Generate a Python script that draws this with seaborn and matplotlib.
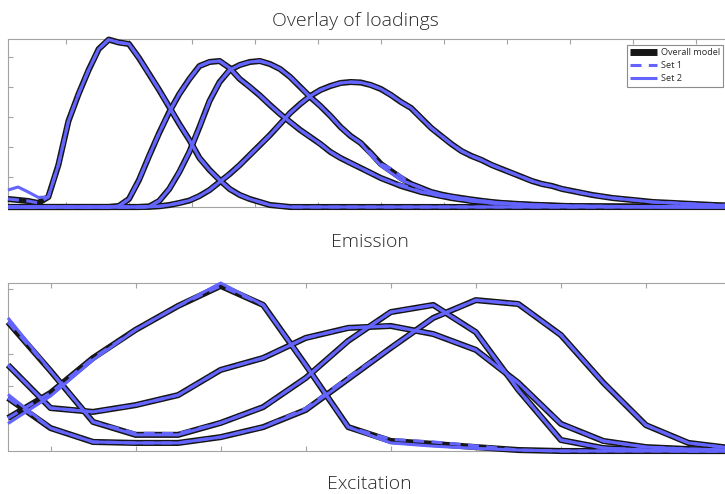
import matplotlib
matplotlib.use("Agg")
import matplotlib.pyplot as plt
from matplotlib.lines import Line2D
import seaborn as sns

# ---------------------------------------------------------------------------
# Emission loadings (4 components), sampled every 4 nm
# ---------------------------------------------------------------------------
em_nm = list(range(252, 541, 4))

em_comp1 = [0.0133, 0.0117, 0.0100, 0.0067, 0.0167, 0.0700, 0.1433, 0.1883, 0.2283, 0.2633,
            0.2790, 0.2742, 0.2717, 0.2483, 0.2217, 0.1950, 0.1667, 0.1383, 0.1117, 0.0817,
            0.0617, 0.0450, 0.0300, 0.0200, 0.0133, 0.0083, 0.0033, 0.0017] + [0.0] * 45

em_comp2 = [0.0] * 11 + [
    0.0017, 0.0133, 0.0450, 0.0850, 0.1233, 0.1583, 0.1883, 0.2133, 0.2350, 0.2417,
    0.2433, 0.2317, 0.2133, 0.2000, 0.1858, 0.1700, 0.1550, 0.1417, 0.1283, 0.1167,
    0.1050, 0.0917, 0.0817, 0.0733, 0.0650, 0.0567, 0.0483, 0.0417, 0.0350, 0.0300,
    0.0250, 0.0217, 0.0183, 0.0150, 0.0125, 0.0100, 0.0083, 0.0067, 0.0058, 0.0050,
    0.0042, 0.0033, 0.0025, 0.0020, 0.0017,
    0.0013, 0.0012, 0.0010, 0.0009, 0.0008, 0.0007, 0.0006, 0.0005, 0.0005, 0.0004,
    0.0004, 0.0003, 0.0003, 0.0002, 0.0002, 0.0002, 0.0001]

em_comp3 = [0.0] * 14 + [
    0.0008, 0.0100, 0.0300, 0.0583, 0.0917, 0.1333, 0.1767, 0.2083, 0.2283, 0.2367,
    0.2417, 0.2433, 0.2383, 0.2300, 0.2167, 0.2000, 0.1833, 0.1683, 0.1517, 0.1333,
    0.1183, 0.1067, 0.0900, 0.0717, 0.0600, 0.0483, 0.0383, 0.0317, 0.0250, 0.0208,
    0.0175, 0.0150, 0.0125, 0.0103, 0.0083, 0.0067, 0.0057, 0.0047, 0.0038, 0.0032,
    0.0025, 0.0018,
    0.0015, 0.0013, 0.0011, 0.0010, 0.0009, 0.0008, 0.0007, 0.0006, 0.0005, 0.0005,
    0.0004, 0.0004, 0.0003, 0.0003, 0.0002, 0.0002, 0.0002]

em_comp4 = [0.0] * 14 + [
    0.0003, 0.0012, 0.0033, 0.0067, 0.0108, 0.0183, 0.0283, 0.0417, 0.0550, 0.0700,
    0.0867, 0.1033, 0.1200, 0.1383, 0.1567, 0.1717, 0.1850, 0.1950, 0.2017, 0.2067,
    0.2083, 0.2075, 0.2033, 0.1967, 0.1867, 0.1750, 0.1650, 0.1483, 0.1317, 0.1183,
    0.1050, 0.0933, 0.0850, 0.0783, 0.0700, 0.0633, 0.0567, 0.0500, 0.0433, 0.0383,
    0.0350, 0.0300, 0.0267, 0.0233, 0.0200, 0.0175, 0.0150, 0.0133, 0.0117, 0.0100,
    0.0083, 0.0075, 0.0067, 0.0058, 0.0050, 0.0042, 0.0033, 0.0028, 0.0025]

# Split-half models: points where each half deviates from the overall model
em_set1_changes = {1: {39: 0.0370, 40: 0.0320}, 2: {38: 0.0640, 39: 0.0510}}
em_set2_changes = {0: {0: 0.0283, 1: 0.0333, 2: 0.0250, 3: 0.0160},
                   2: {36: 0.0870, 37: 0.0690, 38: 0.0570, 39: 0.0450}}

# ---------------------------------------------------------------------------
# Excitation loadings (4 components), sampled every 5 nm
# ---------------------------------------------------------------------------
ex_nm = list(range(240, 326, 5))

ex_comp1 = [0.102, 0.180, 0.288, 0.375, 0.449, 0.511, 0.452, 0.266, 0.074, 0.031,
            0.022, 0.012, 0.003, 0.0, 0.0, 0.0, 0.0, 0.0]
ex_comp2 = [0.399, 0.248, 0.090, 0.050, 0.050, 0.087, 0.136, 0.226, 0.341, 0.430,
            0.452, 0.368, 0.189, 0.034, 0.009, 0.003, 0.0, 0.0]
ex_comp3 = [0.266, 0.133, 0.121, 0.142, 0.173, 0.251, 0.288, 0.350, 0.381, 0.387,
            0.362, 0.313, 0.211, 0.084, 0.031, 0.012, 0.006, 0.003]
ex_comp4 = [0.164, 0.071, 0.028, 0.025, 0.025, 0.043, 0.074, 0.127, 0.223, 0.319,
            0.412, 0.467, 0.455, 0.359, 0.211, 0.080, 0.025, 0.009]

ex_set1_changes = {0: {9: 0.036, 10: 0.028, 11: 0.016}, 1: {3: 0.055, 4: 0.054},
                   3: {7: 0.132, 8: 0.228}}
ex_set2_changes = {0: {0: 0.085, 1: 0.170, 2: 0.282, 5: 0.520, 9: 0.025, 10: 0.015, 11: 0.008},
                   1: {0: 0.412}, 3: {0: 0.175}}

legend_labels = ["Overall model", "Set 1", "Set 2"]

BLACK = "#161616"
BLUE = "#6464FF"
GRID_GRAY = "#a3a3a3"
TEXT_COLOR = "#2a2a2a"


def with_changes(values, changes):
    out = list(values)
    for idx, v in changes.items():
        out[idx] = v
    return out


sns.set_theme(style="white", rc={"lines.dashed_pattern": (3.6, 2.4),
                                 "lines.solid_joinstyle": "round",
                                 "lines.dash_joinstyle": "round",
                                 "lines.solid_capstyle": "butt",
                                 "lines.dash_capstyle": "butt"})
plt.rcParams["font.family"] = ["Open Sans", "DejaVu Sans"]

fig = plt.figure(figsize=(7.25, 4.94), dpi=100)
W, H = 725.0, 494.0
ax_em = fig.add_axes([8 / W, (H - 207) / H, 723 / W, 168 / H])
ax_ex = fig.add_axes([8 / W, (H - 451) / H, 723 / W, 168 / H])


def draw_panel(ax, x, comps, set1_changes, set2_changes):
    # overall model underneath, then the two split-half models
    for c in comps:
        sns.lineplot(x=x, y=c, ax=ax, color=BLACK, linewidth=4.4,
                     clip_on=False, legend=False, zorder=2)
    for i, c in enumerate(comps):
        sns.lineplot(x=x, y=with_changes(c, set1_changes.get(i, {})), ax=ax,
                     color=BLUE, linewidth=2.2, linestyle="--",
                     clip_on=False, legend=False, zorder=3)
    for i, c in enumerate(comps):
        sns.lineplot(x=x, y=with_changes(c, set2_changes.get(i, {})), ax=ax,
                     color=BLUE, linewidth=2.2, clip_on=False,
                     legend=False, zorder=4)


draw_panel(ax_em, em_nm, [em_comp1, em_comp2, em_comp3, em_comp4],
           em_set1_changes, em_set2_changes)
draw_panel(ax_ex, ex_nm, [ex_comp1, ex_comp2, ex_comp3, ex_comp4],
           ex_set1_changes, ex_set2_changes)

ax_em.set_xlim(252, 539)
ax_em.set_ylim(0, 0.28)
ax_em.set_xticks(list(range(275, 540, 25)))
ax_em.set_yticks([0.05, 0.10, 0.15, 0.20, 0.25])

ax_ex.set_xlim(240, 325)
ax_ex.set_ylim(0, 0.52)
ax_ex.set_xticks(list(range(245, 326, 10)))
ax_ex.set_yticks([0.1, 0.2, 0.3, 0.4, 0.5])

for ax in (ax_em, ax_ex):
    ax.set_xlabel("")
    ax.set_ylabel("")
    ax.tick_params(direction="in", length=3.6, width=0.8, color=GRID_GRAY,
                   top=True, right=True, bottom=True, left=True,
                   labelbottom=False, labelleft=False)
    for sp in ax.spines.values():
        sp.set_color(GRID_GRAY)
        sp.set_linewidth(0.8)
        sp.set_zorder(1)

handles = [Line2D([], [], color=BLACK, linewidth=5.0, solid_capstyle="butt"),
           Line2D([], [], color=BLUE, linewidth=2.2, linestyle="--", dash_capstyle="butt"),
           Line2D([], [], color=BLUE, linewidth=2.2, solid_capstyle="butt")]
leg = fig.legend(handles, legend_labels, loc="upper right",
                 bbox_to_anchor=(723 / W, 1 - 45 / H), bbox_transform=fig.transFigure,
                 frameon=True, fancybox=False, fontsize=6.6, handlelength=3.0,
                 handletextpad=0.35, borderpad=0.35, labelspacing=0.45,
                 borderaxespad=0.0, framealpha=1.0, edgecolor="#8c8c8c")
leg.get_frame().set_linewidth(0.8)
for t in leg.get_texts():
    t.set_color(TEXT_COLOR)

text_kw = dict(ha="center", va="center", fontsize=14, color=TEXT_COLOR,
               fontweight="light")
fig.text(355 / W, 1 - 21 / H, "Overlay of loadings", **text_kw)
fig.text(370 / W, 1 - 242 / H, "Emission", **text_kw)
fig.text(369 / W, 1 - 484 / H, "Excitation", **text_kw)

fig.savefig("out.png", dpi=100)
